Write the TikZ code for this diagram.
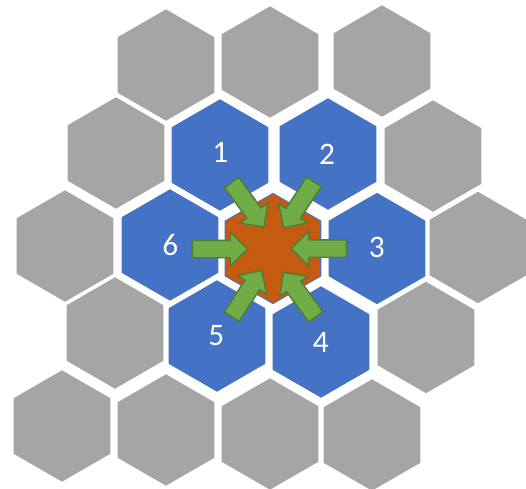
\documentclass[tikz,border=0pt]{standalone}
\usepackage{fontspec}
\setmainfont{Carlito}
\usetikzlibrary{shapes.geometric,shapes.arrows}
\definecolor{hexgrey}{RGB}{165,165,165}
\definecolor{hexblue}{RGB}{68,114,196}
\definecolor{hexorange}{RGB}{197,90,17}
\definecolor{arrowgreen}{RGB}{112,173,71}
\definecolor{arrowedge}{RGB}{80,126,50}

\begin{document}
\begin{tikzpicture}[x=0.75pt,y=0.75pt,yscale=-1,xscale=1,
    cell/.style={regular polygon,regular polygon sides=6,rotate=30,minimum size=85.5pt,inner sep=0pt,outer sep=0pt,draw=white,line width=1.5pt},
    greycell/.style={cell,fill=hexgrey},
    bluecell/.style={cell,fill=hexblue},
    hubcell/.style={regular polygon,regular polygon sides=6,rotate=30,minimum size=81.75pt,inner sep=0pt,outer sep=0pt,fill=hexorange},
    inarrow/.style={single arrow,minimum height=41.25pt,single arrow head extend=6.4pt,inner xsep=0pt,inner ysep=6pt,fill=arrowgreen,draw=arrowedge,line width=1.1pt},
    cellnum/.style={text=white,inner sep=0pt,font=\fontsize{23.5}{28}\selectfont}]
    %set diagram frame: width 526, height 489
    \useasboundingbox (0,0) rectangle (526,489);

    %Shape: Regular Polygon [grey ring]
    \node [greycell] (g1) at (166,65) {};
    \node [greycell] (g2) at (270,62) {};
    \node [greycell] (g3) at (382,61) {};
    \node [greycell] (g4) at (116,153) {};
    \node [greycell] (g5) at (433,156) {};
    \node [greycell] (g6) at (65,246) {};
    \node [greycell] (g7) at (478,247.5) {};
    \node [greycell] (g8) at (115,333) {};
    \node [greycell] (g9) at (426,337.5) {};
    \node [greycell] (g10) at (62,426) {};
    \node [greycell] (g11) at (166,430) {};
    \node [greycell] (g12) at (270,434) {};
    \node [greycell] (g13) at (372,435) {};

    %Shape: Regular Polygon [blue neighbours]
    \node [bluecell] (b1) at (220,155) {};
    \node [bluecell] (b2) at (328,154) {};
    \node [bluecell] (b3) at (377,248.5) {};
    \node [bluecell] (b4) at (321,342) {};
    \node [bluecell] (b5) at (217,336) {};
    \node [bluecell] (b6) at (170,245) {};

    %Shape: Regular Polygon [centre]
    \node [bluecell] (hubrim) at (273,248.5) {};
    \node [hubcell] (hub) at (273,248.5) {};

    %Right Arrow [towards centre]
    \node [inarrow,rotate=-54] (a1) at (245.3,201.2) {};
    \node [inarrow,rotate=-123.5] (a2) at (301.2,201.2) {};
    \node [inarrow,rotate=180] (a3) at (323.3,248.5) {};
    \node [inarrow,rotate=126] (a4) at (302.2,298.2) {};
    \node [inarrow,rotate=57] (a5) at (244.3,297.2) {};
    \node [inarrow] (a6) at (215.5,249) {};

    % Text Node
    \node [cellnum] (l1) at (220.3,152.5) {1};
    % Text Node
    \node [cellnum] (l2) at (327,154.5) {2};
    % Text Node
    \node [cellnum] (l3) at (376.7,247.5) {3};
    % Text Node
    \node [cellnum] (l4) at (320.8,342) {4};
    % Text Node
    \node [cellnum] (l5) at (216.3,335.8) {5};
    % Text Node
    \node [cellnum] (l6) at (170.3,245.5) {6};
\end{tikzpicture}
\end{document}
